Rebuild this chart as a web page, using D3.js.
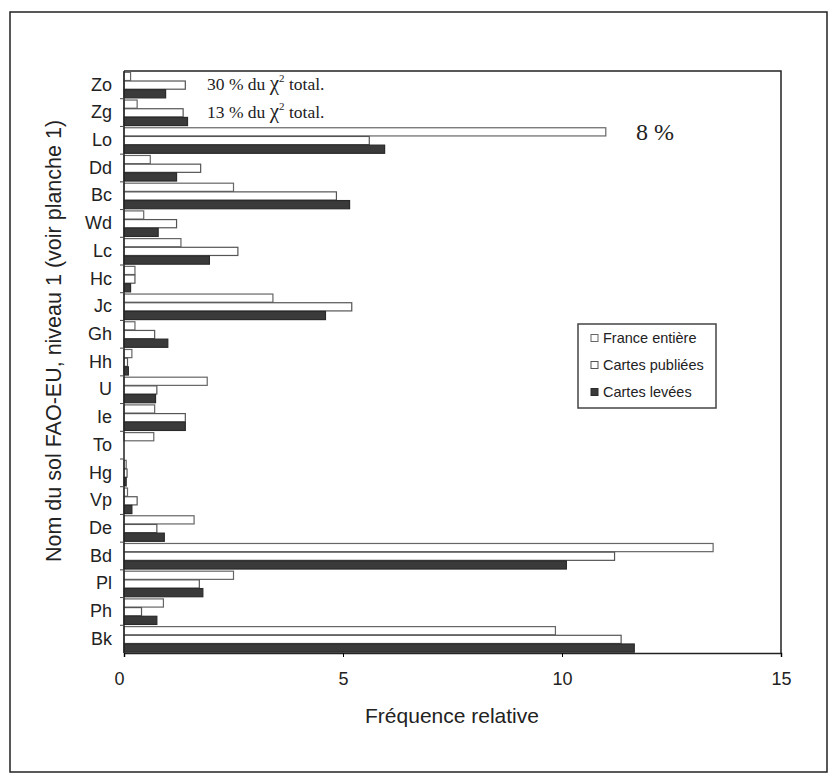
<!doctype html>
<html>
  <head>
    <meta charset="utf-8">
    <title>Fréquence relative des sols FAO-EU</title>
    <script src="https://cdnjs.cloudflare.com/ajax/libs/d3/7.8.5/d3.min.js"></script>
    <style>
      body { margin: 0; background: #fff; }
      svg text { fill: #222; }
    </style>
  </head>
  <body>
    <div id="chart"></div>
    <script>
    // soil codes, top to bottom
    const categories = ['Zo','Zg','Lo','Dd','Bc','Wd','Lc','Hc','Jc','Gh','Hh','U','Ie','To','Hg','Vp','De','Bd','Pl','Ph','Bk'];
    const seriesNames = ['France entière', 'Cartes publiées', 'Cartes levées'];

    // values
    const franceEntiere  = [0.15, 0.3, 11.0, 0.6, 2.5, 0.45, 1.3, 0.25, 3.4, 0.25, 0.18, 1.9, 0.7, 0.68, 0.05, 0.08, 1.6, 13.45, 2.5, 0.9, 9.85];
    const cartesPubliees = [1.4, 1.35, 5.6, 1.75, 4.85, 1.2, 2.6, 0.25, 5.2, 0.7, 0.08, 0.75, 1.4, 0.0, 0.07, 0.3, 0.75, 11.2, 1.72, 0.4, 11.35];
    const cartesLevees   = [0.95, 1.45, 5.95, 1.2, 5.15, 0.78, 1.95, 0.15, 4.6, 1.0, 0.1, 0.72, 1.4, 0.0, 0.05, 0.18, 0.92, 10.1, 1.8, 0.75, 11.65];
    const xTicks = [0, 5, 10, 15];

    const notes = [
      { cat: 'Zo', text: '30 % du ', tail: ' total.' },
      { cat: 'Zg', text: '13 % du ', tail: ' total.' }
    ];

    const W = 829, H = 775;
    const svg = d3.select('#chart').append('svg')
      .attr('width', W).attr('height', H);

    // outer frame
    svg.append('rect')
      .attr('x', 10).attr('y', 12).attr('width', 817).attr('height', 760)
      .attr('fill', 'none').attr('stroke', '#222').attr('stroke-width', 1.5);

    const pLeft = 124, pRight = 781, pTop = 71, pBottom = 653;
    const sans = 'Liberation Sans, Arial, sans-serif';
    const serif = 'Liberation Serif, Times New Roman, serif';

    const x = d3.scaleLinear().domain([0, 15]).range([pLeft, pRight]);
    const y = d3.scaleBand().domain(categories).range([pTop, pBottom]).paddingInner(0.06).paddingOuter(0.03);
    const ySub = d3.scaleBand().domain(seriesNames).range([0, y.bandwidth()]).padding(0);

    const fills = ['#fff', '#fff', '#3a3a3a'];
    const strokes = ['#666', '#555', '#2a2a2a'];

    const rows = categories.map((c, i) => ({
      cat: c,
      vals: [franceEntiere[i], cartesPubliees[i], cartesLevees[i]]
    }));

    // plot box (top + right)
    svg.append('path')
      .attr('d', `M${pLeft},${pTop}H${pRight}V${pBottom}`)
      .attr('fill', 'none').attr('stroke', '#222').attr('stroke-width', 1.5);

    const g = svg.append('g');
    g.selectAll('g.row')
      .data(rows)
      .join('g')
      .attr('class', 'row')
      .attr('transform', d => `translate(0,${y(d.cat)})`)
      .selectAll('rect')
      .data(d => d.vals.map((v, k) => ({ v, k })).filter(d => d.v > 0))
      .join('rect')
      .attr('x', x(0))
      .attr('y', d => ySub(seriesNames[d.k]) + 0.5)
      .attr('width', d => x(d.v) - x(0))
      .attr('height', ySub.bandwidth() - 0.5)
      .attr('fill', d => fills[d.k])
      .attr('stroke', d => strokes[d.k])
      .attr('stroke-width', 1.2);

    // x axis
    const xAxis = svg.append('g')
      .attr('transform', `translate(0,${pBottom})`)
      .call(d3.axisBottom(x).tickValues(xTicks).tickSize(4).tickPadding(15).tickFormat(d3.format('d')));
    xAxis.select('.domain').attr('stroke', '#222').attr('stroke-width', 1.5);
    xAxis.selectAll('text').attr('font-family', sans).attr('font-size', 18).attr('fill', '#222');
    xAxis.selectAll('.tick').filter(d => d === 0).select('text').attr('dx', -5);

    // y axis with ticks between categories
    const yAxis = svg.append('g').attr('transform', `translate(${pLeft},0)`)
      .call(d3.axisLeft(y).tickSize(0).tickPadding(12));
    yAxis.select('.domain').attr('d', `M0,${pTop}V${pBottom}`).attr('stroke', '#222').attr('stroke-width', 1.5);
    yAxis.selectAll('text').attr('font-family', sans).attr('font-size', 18).attr('fill', '#222');

    const step = y.step();
    yAxis.selectAll('line.sep')
      .data(categories.slice(1))
      .join('line')
      .attr('class', 'sep')
      .attr('x1', -4).attr('x2', 0)
      .attr('y1', d => y(d) - step * y.paddingInner() / 2)
      .attr('y2', d => y(d) - step * y.paddingInner() / 2)
      .attr('stroke', '#444');

    // axis titles
    svg.append('text')
      .attr('x', 452).attr('y', 723)
      .attr('text-anchor', 'middle')
      .attr('font-family', sans).attr('font-size', 21)
      .text('Fréquence relative');

    svg.append('text')
      .attr('transform', 'translate(61,341) rotate(-90)')
      .attr('text-anchor', 'middle')
      .attr('font-family', sans).attr('font-size', 21.5)
      .text('Nom du sol FAO-EU, niveau 1 (voir planche 1)');

    // chi-square notes
    notes.forEach(n => {
      const t = svg.append('text')
        .attr('x', 207).attr('y', y(n.cat) + y.bandwidth() / 2 + 5)
        .attr('font-family', serif).attr('font-size', 17.5)
        .attr('fill', '#333');
      t.append('tspan').text(n.text);
      t.append('tspan').attr('font-size', 21).text('χ');
      t.append('tspan').attr('font-size', 11).attr('dy', -8).text('2');
      t.append('tspan').attr('dy', 8).text(n.tail);
    });
    svg.append('text')
      .attr('x', 636).attr('y', 140)
      .attr('font-family', serif).attr('font-size', 24)
      .attr('fill', '#333')
      .text('8 %');

    // legend
    const lg = svg.append('g').attr('transform', 'translate(578,324)');
    lg.append('rect').attr('width', 138).attr('height', 84)
      .attr('fill', '#fff').attr('stroke', '#444').attr('stroke-width', 1.5);
    const item = lg.selectAll('g.item')
      .data(seriesNames)
      .join('g')
      .attr('class', 'item')
      .attr('transform', (d, i) => `translate(13,${14 + i * 27})`);
    item.append('rect')
      .attr('x', 0).attr('y', -3.5).attr('width', 7).attr('height', 7)
      .attr('fill', (d, i) => fills[i])
      .attr('stroke', (d, i) => strokes[i]).attr('stroke-width', 1);
    item.append('text')
      .attr('x', 12).attr('y', 5)
      .attr('font-family', sans).attr('font-size', 14.5)
      .attr('fill', '#333')
      .text(d => d);
    </script>
  </body>
</html>
